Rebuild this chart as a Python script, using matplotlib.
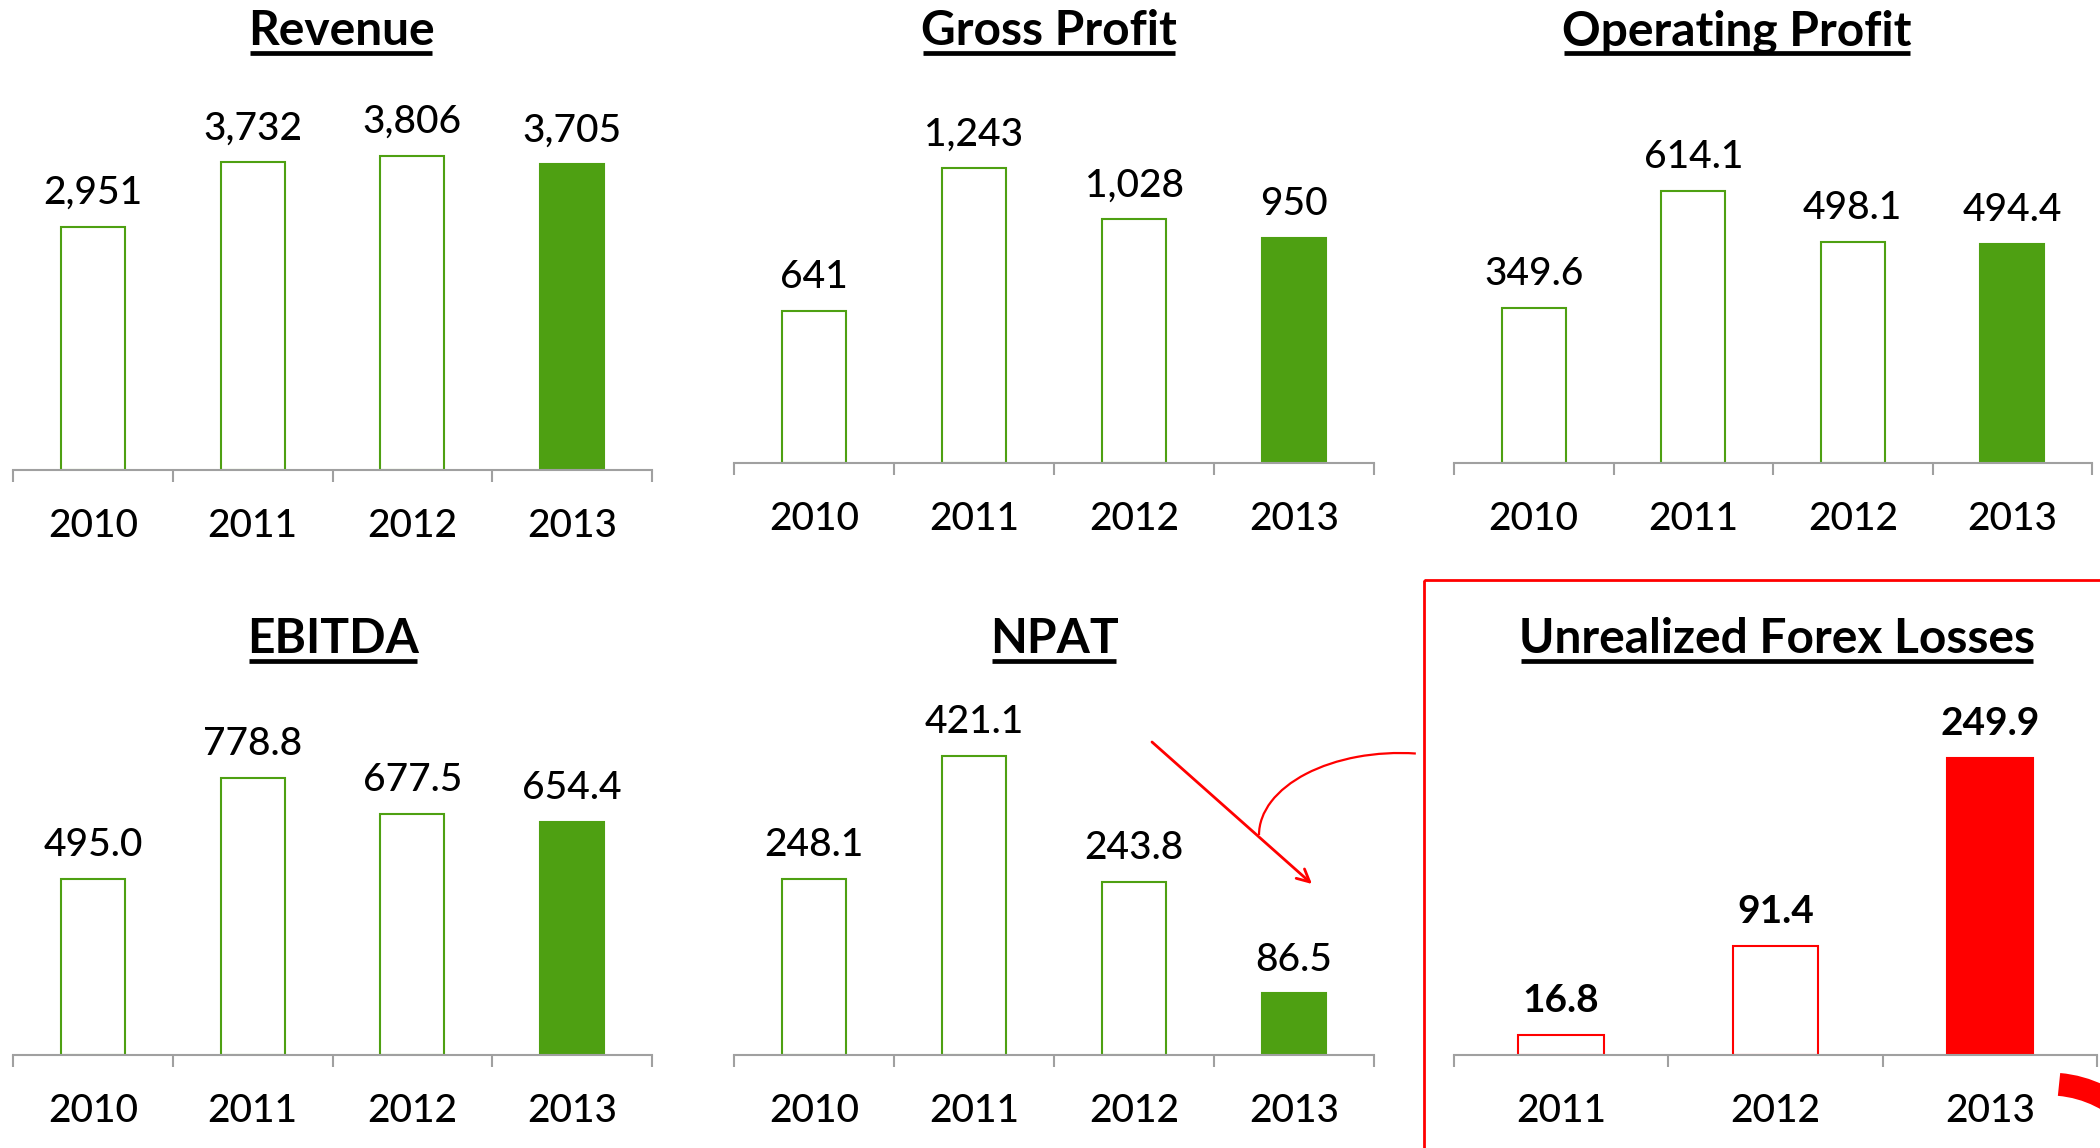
import numpy as np
import matplotlib
matplotlib.use("Agg")
import matplotlib.pyplot as plt
from matplotlib.patches import Rectangle, Arc
from matplotlib.lines import Line2D

plt.rcParams["font.family"] = ["Lato", "DejaVu Sans"]

# data
years = ["2010", "2011", "2012", "2013"]
revenue = [2951, 3732, 3806, 3705]
gross_profit = [641, 1243, 1028, 950]
operating_profit = [349.6, 614.1, 498.1, 494.4]
ebitda = [495.0, 778.8, 677.5, 654.4]
npat = [248.1, 421.1, 243.8, 86.5]
forex_years = ["2011", "2012", "2013"]
forex_losses = [16.8, 91.4, 249.9]

GREEN = "#4EA012"
RED = "#FF0000"
GRAY = "#A0A0A0"

W, H = 2100, 1148
fig = plt.figure(figsize=(W / 100, H / 100), dpi=100)

# overlay in pixel units (y down) for box / arrows / underlines
over = fig.add_axes([0, 0, 1, 1], zorder=10)
over.set_xlim(0, W)
over.set_ylim(H, 0)
over.axis("off")
over.patch.set_alpha(0)


def panel(x0, x1, y_axis, ymax, px_per_unit, cats, vals, fmt, color, bold=False):
    y_top = y_axis - ymax * px_per_unit
    ax = fig.add_axes([x0 / W, 1 - y_axis / H, (x1 - x0) / W, (y_axis - y_top) / H])
    n = len(cats)
    x = np.arange(n)
    faces = ["white"] * (n - 1) + [color]
    ax.bar(x, vals, width=0.4, color=faces, edgecolor=color, linewidth=1.5, zorder=2)
    ax.set_xlim(-0.5, n - 0.5)
    ax.set_ylim(0, ymax)
    for s in ["left", "right", "top"]:
        ax.spines[s].set_visible(False)
    ax.spines["bottom"].set_color(GRAY)
    ax.spines["bottom"].set_linewidth(1.5)
    ax.set_yticks([])
    ax.set_xticks(np.arange(n + 1) - 0.5)
    ax.set_xticklabels([])
    ax.tick_params(axis="x", length=8.7, width=1.5, color=GRAY, direction="out")
    ax.patch.set_alpha(0)
    for i, v in enumerate(vals):
        ax.annotate(fmt.format(v), (i, v), xytext=(0, 16.5), textcoords="offset points",
                    ha="center", va="baseline", fontsize=28,
                    fontweight="bold" if bold else "medium", annotation_clip=False)
        ax.annotate(cats[i], (i, 0), xytext=(0, -48), textcoords="offset points",
                    ha="center", va="baseline", fontsize=28, fontweight="medium",
                    annotation_clip=False)
    return ax


panel(13, 652, 470, 4500, 0.0825, years, revenue, "{:,.0f}", GREEN)
panel(734, 1374, 463, 1500, 0.237, years, gross_profit, "{:,.0f}", GREEN)
panel(1454, 2092, 463, 750, 0.4433, years, operating_profit, "{:.1f}", GREEN)
panel(13, 652, 1055, 900, 0.356, years, ebitda, "{:.1f}", GREEN)
panel(734, 1374, 1055, 500, 0.711, years, npat, "{:.1f}", GREEN)
panel(1454, 2097, 1055, 300, 1.189, forex_years, forex_losses, "{:.1f}", RED, bold=True)

# titles
titles = [("Revenue", 341, 45), ("Gross Profit", 1049, 45), ("Operating Profit", 1737, 45),
          ("EBITDA", 333, 653), ("NPAT", 1054, 653), ("Unrealized Forex Losses", 1777, 653)]
title_objs = []
for txt, tx, ty in titles:
    t = fig.text(tx / W, 1 - ty / H, txt, ha="center", va="baseline",
                 fontsize=34.5, fontweight="bold")
    title_objs.append((t, ty))

# red highlight box and arrows
over.add_patch(Rectangle((1424, 580), 800, 700, fill=False, edgecolor=RED, linewidth=2))
over.annotate("", xy=(1312, 884), xytext=(1152, 742),
              arrowprops=dict(arrowstyle="->,head_length=0.9,head_width=0.45",
                              color=RED, lw=2, shrinkA=0, shrinkB=0))
over.add_patch(Arc((1400, 835), 282, 164, theta1=180, theta2=281, color=RED, lw=1.6))
over.add_patch(Arc((2049, 1199), 230, 230, theta1=275, theta2=360, color=RED, lw=16.5,
                   capstyle="butt"))

# underlines under titles
fig.canvas.draw()
renderer = fig.canvas.get_renderer()
for t, ty in title_objs:
    bb = t.get_window_extent(renderer)
    over.add_line(Line2D([bb.x0 + 2, bb.x1 - 2], [ty + 8, ty + 8], color="black", lw=3.4,
                         solid_capstyle="butt"))

fig.savefig("out.png", dpi=100)
